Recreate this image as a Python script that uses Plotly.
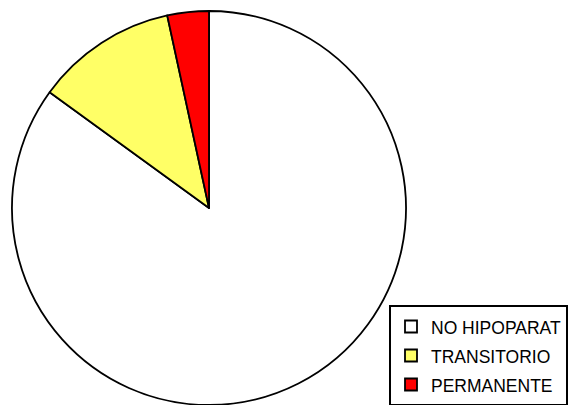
import plotly.graph_objects as go

labels = ["NO HIPOPARAT", "TRANSITORIO", "PERMANENTE"]
values = [85.0, 11.6, 3.4]
colors = ["#FFFFFF", "#FFFF66", "#FF0000"]

W, H = 570, 405
legend_labels = ['<span style="font-size:17.5px">%s</span>' % s for s in labels]

fig = go.Figure(go.Pie(
    labels=legend_labels,
    values=values,
    sort=False,
    direction="clockwise",
    rotation=0,
    textinfo="none",
    hoverinfo="percent",
    marker=dict(colors=colors, line=dict(color="black", width=1.8)),
    domain=dict(x=[12 / W, 406 / W], y=[0.0, 394 / H]),
))

fig.update_layout(
    width=W, height=H,
    margin=dict(l=0, r=0, t=0, b=0, autoexpand=False),
    paper_bgcolor="white",
    plot_bgcolor="white",
    showlegend=True,
    legend=dict(
        x=389 / W, y=-1 / H, xanchor="left", yanchor="bottom",
        bgcolor="white", bordercolor="black", borderwidth=2,
        font=dict(family="Arial, Liberation Sans, sans-serif", size=20, color="black"),
    ),
)

fig.write_html("out.html")
